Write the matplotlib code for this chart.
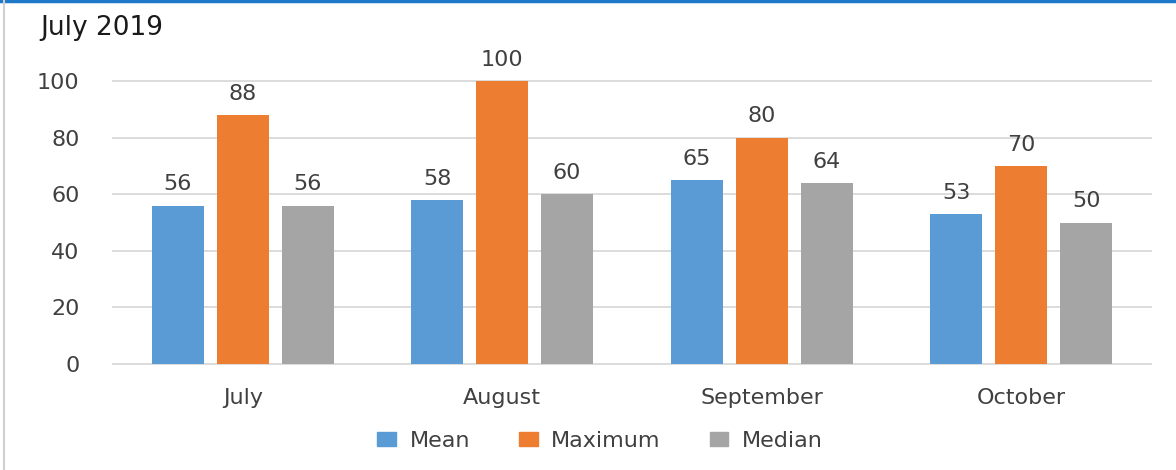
import matplotlib
matplotlib.use("Agg")
import matplotlib.pyplot as plt
import numpy as np
from matplotlib.lines import Line2D

categories = ["July", "August", "September", "October"]
series_names = ["Mean", "Maximum", "Median"]
mean_vals = [56, 58, 65, 53]
max_vals = [88, 100, 80, 70]
median_vals = [56, 60, 64, 50]
colors = ["#5B9BD5", "#ED7D31", "#A5A5A5"]
yticks = [0, 20, 40, 60, 80, 100]

plt.rcParams['font.family'] = ['DejaVu Sans']
txt = "#404040"
fs = 16

fig = plt.figure(figsize=(11.76, 4.70), dpi=100)
ax = fig.add_axes([113/1176, 1-364/470, (1151-113)/1176, (364-81)/470])

x = np.arange(len(categories))
width = 0.2
offsets = [-0.25, 0, 0.25]
for vals, off, col, name in zip([mean_vals, max_vals, median_vals], offsets, colors, series_names):
    bars = ax.bar(x + off, vals, width, color=col, label=name, zorder=3)
    for b, v in zip(bars, vals):
        ax.annotate(str(v), (b.get_x() + b.get_width()/2, v), xytext=(0, 8),
                    textcoords="offset points", ha="center", va="bottom",
                    fontsize=fs, color=txt, annotation_clip=False)

ax.set_xlim(-0.5, len(categories) - 0.5)
ax.set_ylim(0, 100)
ax.set_yticks(yticks)
ax.set_xticks(x)
ax.set_xticklabels(categories)
ax.yaxis.grid(True, color="#D9D9D9", linewidth=1.3, zorder=0)
for s in ax.spines.values():
    s.set_visible(False)
ax.tick_params(axis="both", length=0, labelsize=fs, colors=txt)
ax.tick_params(axis="y", pad=24)
ax.tick_params(axis="x", pad=17)
for gl in ax.get_ygridlines():
    gl.set_clip_on(False)

fig.text(40/1176, 1-28/470, "July 2019", fontsize=19, color="#1a1a1a", va="center", ha="left")

handles = [plt.Rectangle((0, 0), 1, 1, color=c) for c in colors]
fig.legend(handles, series_names, loc="center", bbox_to_anchor=(600/1176, 1-441/470), ncol=3,
           frameon=False, fontsize=fs, handlelength=0.85, handleheight=0.55,
           columnspacing=2.2, handletextpad=0.6, labelcolor=txt)

# frame lines
fig.add_artist(Line2D([0, 1], [1-1/470, 1-1/470], color="#1F78C8", linewidth=2.5, transform=fig.transFigure))
fig.add_artist(Line2D([4/1176, 4/1176], [0, 1], color="#D0D0D0", linewidth=1.5, transform=fig.transFigure))

fig.savefig("out.png", dpi=100)
